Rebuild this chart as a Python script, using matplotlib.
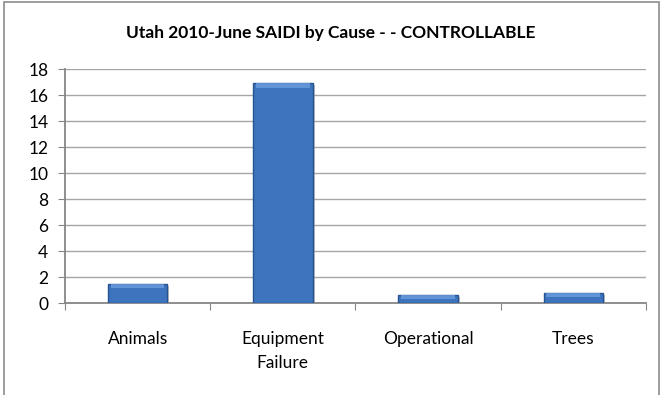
import numpy as np
import matplotlib.pyplot as plt
import matplotlib.patheffects as pe
from matplotlib.patches import Rectangle

plt.rcParams['font.family'] = ['Lato', 'DejaVu Sans']

causes = ["Animals", "Equipment\nFailure", "Operational", "Trees"]
saidi = [1.5, 16.9, 0.65, 0.8]
y_ticks = [0, 2, 4, 6, 8, 10, 12, 14, 16, 18]

fig = plt.figure(figsize=(6.62, 3.95), dpi=100)
ax = fig.add_axes([0.0982, 0.2329, 0.8776, 0.5924])

# chart area border (bottom cut off in the original)
fig.patches.append(Rectangle((4 / 662, -0.1), 655 / 662, 1.1 - 2 / 395,
                             transform=fig.transFigure, fill=False,
                             edgecolor='#8c8c8c', lw=1.2))

x = np.arange(len(causes))
bars = ax.bar(x, saidi, width=0.41, color='#3d74bd', edgecolor='#25548f',
              linewidth=1.0, zorder=3)
for b in bars:
    b.set_path_effects([pe.SimplePatchShadow(offset=(1.5, -1.5), shadow_rgbFace='#9a9a9a', alpha=0.6),
                        pe.Normal()])
# lighter top bevel
bevel = [min(v, 0.35) for v in saidi]
ax.bar(x, bevel, bottom=[v - b for v, b in zip(saidi, bevel)], width=0.37,
       color='#6c9ee0', linewidth=0, zorder=4, alpha=0.8)

ax.set_xlim(-0.5, len(causes) - 0.5)
ax.set_ylim(0, 18)
ax.set_yticks(y_ticks)
ax.yaxis.grid(True, color='#a6a6a6', lw=1.0, zorder=0)
ax.set_axisbelow(True)

ax.set_xticks(np.arange(len(causes) + 1) - 0.5)
ax.set_xticklabels([])
ax.set_xticks(x, minor=True)
ax.set_xticklabels(causes, minor=True, fontsize=12.5, linespacing=1.6)
ax.tick_params(axis='x', which='minor', length=0, pad=20.5)
ax.tick_params(axis='x', which='major', length=5, color='#868686', direction='out')
ax.tick_params(axis='y', length=5, color='#868686', labelsize=12.5, pad=7)
for lab in ax.get_xticklabels(minor=True):
    lab.set_verticalalignment('top')

for s in ['top', 'right']:
    ax.spines[s].set_visible(False)
for s in ['left', 'bottom']:
    ax.spines[s].set_color('#868686')
    ax.spines[s].set_linewidth(1.3)

fig.text(0.5, 1 - 33 / 395, "Utah 2010-June SAIDI by Cause - - CONTROLLABLE",
         ha='center', va='center', fontsize=12.5, fontweight='bold')

fig.savefig('out.png', dpi=100)
